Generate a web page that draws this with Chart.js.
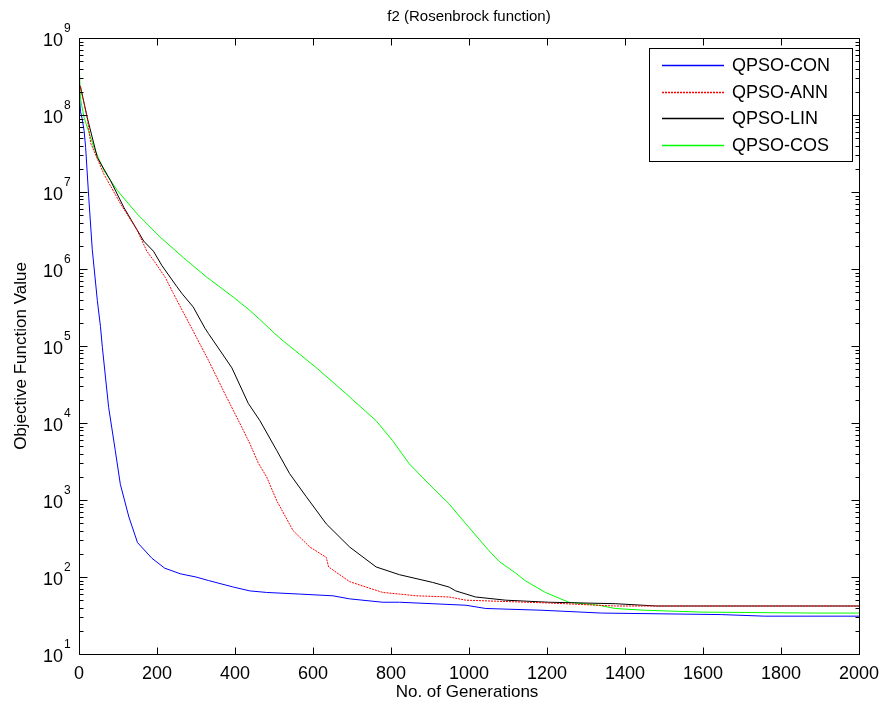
<!DOCTYPE html>
<html>
<head>
<meta charset="utf-8">
<title>f2 (Rosenbrock function)</title>
<script src="https://cdn.jsdelivr.net/npm/chart.js@4.4.1/dist/chart.umd.min.js"></script>
<style>
  html, body { margin: 0; padding: 0; background: #fff; }
  canvas { display: block; }
</style>
</head>
<body>
<canvas id="convChart" width="888" height="707"></canvas>
<script>
// values (generation, objective value)
var conGen = [0, 4, 8, 13, 17, 25, 34, 47, 55, 60, 76, 93, 106, 128, 150, 187, 220, 260, 300, 332, 396, 438, 481, 566, 651, 694, 779, 822, 992, 1043, 1187, 1340, 1647, 1758, 2000];
var conVal = [2e8, 1.1e8, 9e7, 6.3e7, 3.8e7, 8.5e6, 1.8e6, 3.9e5, 1.8e5, 9.5e4, 1.6e4, 4400, 1600, 600, 280, 175, 130, 110, 100, 90, 74, 66, 63, 60, 57, 52, 47, 47, 43, 39, 37, 34, 32.5, 31, 31];

var annGen = [0, 4, 21, 30, 64, 106, 149, 174, 191, 221, 242, 289, 332, 374, 417, 438, 460, 481, 507, 549, 592, 634, 640, 694, 736, 779, 822, 864, 949, 992, 1204, 1375, 1480, 2000];
var annVal = [2.5e8, 2.3e8, 9.3e7, 4.3e7, 1.7e7, 7.1e6, 3.2e6, 1.7e6, 1.3e6, 7.8e5, 4.8e5, 1.7e5, 6.5e4, 2.4e4, 8900, 5400, 3000, 2000, 980, 400, 245, 180, 135, 87, 74, 63, 60, 57, 55, 50, 46, 42, 42, 42];

var linGen = [0, 4, 21, 47, 81, 115, 166, 191, 213, 251, 264, 293, 323, 332, 392, 434, 464, 507, 540, 583, 634, 694, 762, 822, 907, 949, 966, 1017, 1094, 1204, 1375, 1480, 2000];
var linVal = [2.5e8, 2.3e8, 9.3e7, 2.8e7, 1.4e7, 6.3e6, 2.3e6, 1.7e6, 1.1e6, 5.9e5, 4.8e5, 3.2e5, 1.7e5, 1.45e5, 5.2e4, 1.8e4, 1.07e4, 4400, 2200, 1100, 490, 245, 135, 107, 85, 74, 66, 55, 50, 47, 45, 42, 42];

var cosGen = [0, 4, 13, 38, 64, 98, 149, 208, 268, 328, 396, 438, 464, 502, 523, 609, 685, 702, 762, 804, 847, 898, 949, 992, 1051, 1077, 1120, 1145, 1196, 1256, 1332, 1375, 1452, 1596, 1886, 2000];
var cosVal = [4.9e8, 1.6e8, 9.3e7, 3.8e7, 1.9e7, 1.05e7, 5.2e6, 2.6e6, 1.4e6, 7.8e5, 4.3e5, 2.9e5, 2.2e5, 1.45e5, 1.17e5, 5.2e4, 2.4e4, 2e4, 1.07e4, 5900, 2950, 1600, 890, 490, 220, 160, 112, 89, 63, 47, 43, 39, 37, 35, 34, 34];

var seriesNames = ['QPSO-CON', 'QPSO-ANN', 'QPSO-LIN', 'QPSO-COS'];
var xTickStep = 200;
var yExponents = [1, 2, 3, 4, 5, 6, 7, 8, 9];

var FONT = '"Liberation Sans", Arial, Helvetica, sans-serif';

function pts(gens, vals) {
    return gens.map(function (g, i) { return { x: g, y: vals[i] }; });
}

function line(label, gens, vals, color, dash) {
    return {
        label: label,
        data: pts(gens, vals),
        borderColor: color,
        borderWidth: 1,
        borderDash: dash || [],
        pointRadius: 0,
        fill: false,
        tension: 0
    };
}

// MATLAB-like frame: box, inward ticks, 10^n labels, titles, legend
var matlabAxes = {
    id: 'matlabAxes',
    afterDraw: function (chart) {
        var ctx = chart.ctx;
        var a = chart.chartArea;
        var xs = chart.scales.x, ys = chart.scales.y;
        var L = Math.round(a.left) + 0.5, R = Math.round(a.right) + 0.5;
        var T = Math.round(a.top) + 0.5, B = Math.round(a.bottom) + 0.5;
        ctx.save();
        ctx.strokeStyle = '#000';
        ctx.lineWidth = 1;
        ctx.beginPath();
        ctx.rect(L, T, R - L, B - T);

        // x ticks top & bottom
        for (var g = 0; g <= 2000; g += xTickStep) {
            var px = Math.round(xs.getPixelForValue(g)) + 0.5;
            ctx.moveTo(px, B); ctx.lineTo(px, B - 7);
            ctx.moveTo(px, T); ctx.lineTo(px, T + 7);
        }
        // y ticks left & right, major + minor
        yExponents.forEach(function (e) {
            var py = Math.round(ys.getPixelForValue(Math.pow(10, e))) + 0.5;
            ctx.moveTo(L, py); ctx.lineTo(L + 8, py);
            ctx.moveTo(R, py); ctx.lineTo(R - 8, py);
            if (e < 9) {
                for (var m = 2; m <= 9; m++) {
                    var my = Math.round(ys.getPixelForValue(m * Math.pow(10, e))) + 0.5;
                    ctx.moveTo(L, my); ctx.lineTo(L + 4, my);
                    ctx.moveTo(R, my); ctx.lineTo(R - 4, my);
                }
            }
        });
        ctx.stroke();

        // y labels 10^n
        ctx.fillStyle = '#000';
        yExponents.forEach(function (e) {
            var py = ys.getPixelForValue(Math.pow(10, e));
            ctx.font = '18px ' + FONT;
            ctx.textAlign = 'right';
            ctx.textBaseline = 'middle';
            ctx.fillText('10', 63, py + 3);
            ctx.font = '12px ' + FONT;
            ctx.textAlign = 'left';
            ctx.fillText(String(e), 64, py - 9);
        });

        // title and axis titles
        ctx.textAlign = 'center';
        ctx.textBaseline = 'middle';
        ctx.font = '15px ' + FONT;
        ctx.fillText('f2 (Rosenbrock function)', (a.left + a.right) / 2, 17);
        ctx.font = '17px ' + FONT;
        ctx.fillText('No. of Generations', (a.left + a.right) / 2 - 2, 692);
        ctx.save();
        ctx.translate(21, 356);
        ctx.rotate(-Math.PI / 2);
        ctx.fillText('Objective Function Value', 0, 0);
        ctx.restore();

        // legend box
        var bx = 649.5, by = 48.5, bw = 203, bh = 113;
        ctx.fillStyle = '#fff';
        ctx.fillRect(bx, by, bw, bh);
        ctx.strokeStyle = '#000';
        ctx.strokeRect(bx, by, bw, bh);
        ctx.font = '18px ' + FONT;
        ctx.textAlign = 'left';
        chart.data.datasets.forEach(function (ds, i) {
            var ry = Math.round(65 + i * 26.7) + 0.5;
            ctx.beginPath();
            ctx.strokeStyle = ds.borderColor;
            ctx.setLineDash(ds.borderDash);
            ctx.lineWidth = 1.5;
            ctx.moveTo(662, ry); ctx.lineTo(724, ry);
            ctx.stroke();
            ctx.setLineDash([]);
            ctx.fillStyle = '#000';
            ctx.fillText(ds.label, 732, ry + 1);
        });
        ctx.restore();
    }
};

var ctx = document.getElementById('convChart').getContext('2d');
var chart = new Chart(ctx, {
    type: 'line',
    data: {
        datasets: [
            line(seriesNames[0], conGen, conVal, '#0000ff'),
            line(seriesNames[1], annGen, annVal, '#ff0000', [2, 1]),
            line(seriesNames[2], linGen, linVal, '#000000'),
            line(seriesNames[3], cosGen, cosVal, '#00ff00')
        ]
    },
    options: {
        responsive: false,
        animation: false,
        layout: { padding: { top: 38, right: 28, left: 0, bottom: 0 } },
        plugins: {
            legend: { display: false },
            title: { display: false },
            tooltip: { enabled: false }
        },
        scales: {
            x: {
                type: 'linear',
                min: 0,
                max: 2000,
                grid: { display: false, drawTicks: false },
                border: { display: false },
                ticks: {
                    stepSize: xTickStep,
                    padding: 9,
                    color: '#000',
                    font: { family: FONT, size: 18 },
                    maxRotation: 0,
                    callback: function (v) { return String(v); }
                },
                afterFit: function (s) { s.height = 53; }
            },
            y: {
                type: 'logarithmic',
                min: 10,
                max: 1e9,
                grid: { display: false, drawTicks: false },
                border: { display: false },
                ticks: { display: false },
                afterFit: function (s) { s.width = 79; }
            }
        }
    },
    plugins: [matlabAxes]
});
</script>
</body>
</html>
